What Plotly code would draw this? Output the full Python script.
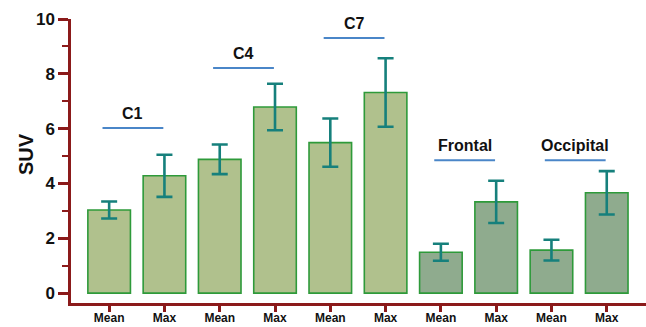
import plotly.graph_objects as go

# ---- data ----
bar_labels = ["Mean", "Max", "Mean", "Max", "Mean", "Max", "Mean", "Max", "Mean", "Max"]
suv_values = [3.03, 4.28, 4.88, 6.79, 5.49, 7.32, 1.49, 3.33, 1.57, 3.66]
suv_errors = [0.31, 0.77, 0.54, 0.85, 0.88, 1.25, 0.31, 0.77, 0.38, 0.79]
region_names = ["C1", "C4", "C7", "Frontal", "Occipital"]
region_label_y = [6.02, 8.21, 9.31, 4.85, 4.85]
bar_colors = ["#b0c18d"] * 6 + ["#8fab8e"] * 4

x_idx = list(range(len(suv_values)))

fig = go.Figure()
fig.add_trace(go.Bar(
    x=x_idx, y=suv_values, width=0.77,
    marker=dict(color=bar_colors, line=dict(color="#2e9a3a", width=1.6)),
    error_y=dict(type="data", array=suv_errors, visible=True,
                 color="#16807c", thickness=2.6, width=8),
    showlegend=False,
))

for i, (name, ly) in enumerate(zip(region_names, region_label_y)):
    x0 = 2 * i - 0.12
    x1 = 2 * i + 0.98
    fig.add_shape(type="line", x0=x0, x1=x1, y0=ly, y1=ly, xref="x", yref="y",
                  line=dict(color="#4a86c8", width=2))
    fig.add_annotation(x=(x0 + x1) / 2, y=ly, xref="x", yref="y", text=f"<b>{name}</b>",
                       showarrow=False, yanchor="bottom", yshift=4,
                       font=dict(family="Liberation Sans, Arial", size=16, color="#111"))

axis_color = "#8b1a1a"
fig.update_layout(
    width=646, height=327,
    margin=dict(l=71, r=0, t=19, b=24, autoexpand=False),
    paper_bgcolor="white", plot_bgcolor="white",
    font=dict(family="Liberation Sans, Arial", color="#111"),
    xaxis=dict(
        range=[-0.69, 9.71], tickmode="array", tickvals=x_idx,
        ticktext=[f"<b>{t}</b>" for t in bar_labels],
        tickfont=dict(size=12), showline=True, linecolor=axis_color, linewidth=2.5,
        ticks="outside", ticklen=6, tickwidth=2.5, tickcolor=axis_color,
        ticklabelstandoff=-4,
        showgrid=False, zeroline=False, automargin=False,
    ),
    yaxis=dict(
        range=[-0.36, 10], tickvals=[0, 2, 4, 6, 8, 10],
        ticktext=[f"<b>{v}</b>" for v in [0, 2, 4, 6, 8, 10]],
        tickfont=dict(size=17), showline=True, linecolor=axis_color, linewidth=2.5,
        ticks="outside", ticklen=10, tickwidth=2.5, tickcolor=axis_color,
        minor=dict(tickvals=[1, 3, 5, 7, 9], ticks="outside", ticklen=6, tickwidth=2, tickcolor=axis_color),
        showgrid=False, zeroline=False, automargin=False,
    ),
)

# y-axis title placed as an annotation at pixel position (26, 154)
pw, ph = 646 - 71, 327 - 19 - 24
fig.add_annotation(x=(26 - 71) / pw, y=(327 - 24 - 154) / ph, xref="paper", yref="paper",
                   xanchor="center", yanchor="middle", text="<b>SUV</b>",
                   textangle=-90, showarrow=False, font=dict(size=20, color="#111"))

fig.write_html("out.html", config={"displayModeBar": False},
               post_script="document.body.style.margin='0';document.body.style.overflow='hidden';")
